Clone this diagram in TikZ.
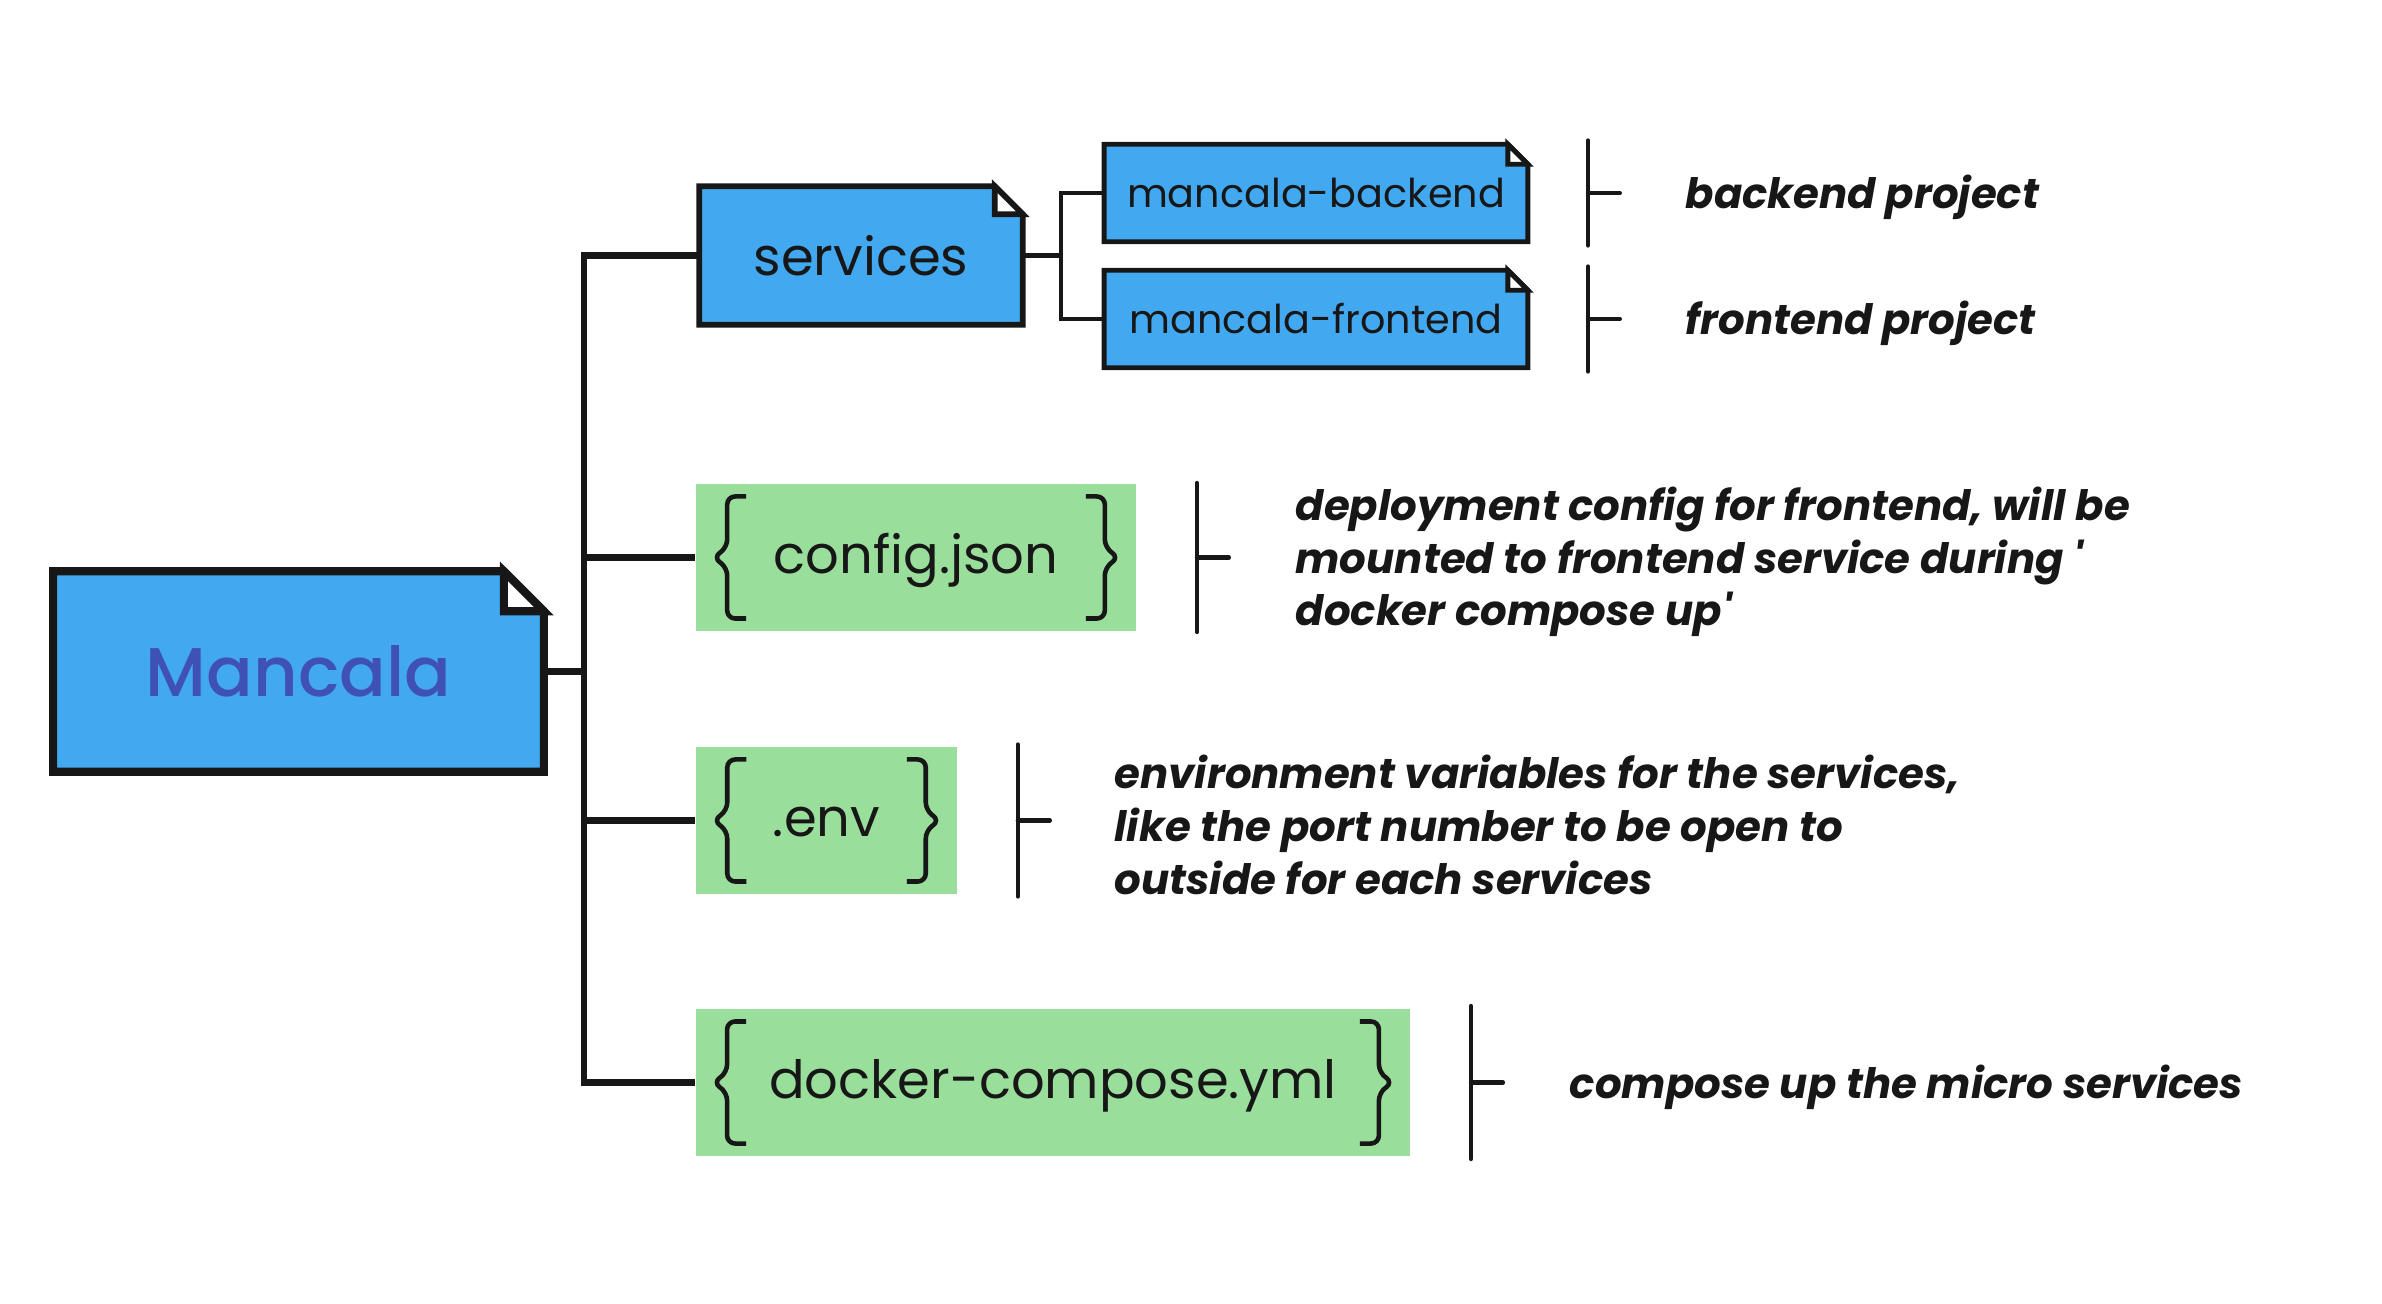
\documentclass[tikz,border=0pt]{standalone}
\usepackage{fontspec}
\setmainfont{Poppins}
\newfontfamily\titlefont{Poppins Medium}
\usepackage{tikz}
\usetikzlibrary{positioning, backgrounds}
\definecolor{docblue}{HTML}{42A9F1}
\definecolor{filegreen}{HTML}{99DE9B}
\definecolor{titleblue}{HTML}{3F51B5}
\definecolor{inkblack}{HTML}{171717}
\tikzstyle{doc} = [rectangle, inner sep=0pt, text centered, text=inkblack]
\tikzstyle{file} = [rectangle, inner sep=0pt, minimum height=1.47cm, text height=1.12em, text depth=0.2em, text centered, fill=filegreen, text=inkblack, font=\fontsize{15}{18}\selectfont]
\tikzstyle{note} = [inner sep=0pt, anchor=west, yshift=-0.045cm, align=left, text=inkblack, font=\bfseries\itshape\fontsize{11.9}{15}\selectfont]
\tikzstyle{branch} = [draw=inkblack, line width=1.8pt]
\tikzstyle{link} = [draw=inkblack, line width=1.2pt]
\tikzstyle{bar} = [draw=inkblack, line width=1.2pt, line cap=round]
\tikzstyle{brace} = [draw=inkblack, line width=1.3pt, rounded corners=0.08cm]
% folded corner box behind a node: node, fold, border width
\newcommand{\dogear}[3]{%
  \begin{pgfonlayer}{background}
    \filldraw[fill=docblue, draw=inkblack, line width=#3]
      (#1.north west) -- ([xshift=-#2]#1.north east) -- ([yshift=-#2]#1.north east)
      -- (#1.south east) -- (#1.south west) -- cycle;
    \filldraw[fill=white, draw=inkblack, line width=#3]
      ([xshift=-#2]#1.north east) -- ([xshift=-#2,yshift=-#2]#1.north east)
      -- ([yshift=-#2]#1.north east) -- cycle;
  \end{pgfonlayer}}
% curly braces inside a file box
\newcommand{\filebraces}[1]{%
  \draw[brace] ([xshift=0.51cm,yshift=0.61cm]#1.west) -- ([xshift=0.32cm,yshift=0.61cm]#1.west)
    -- ([xshift=0.32cm,yshift=0.1cm]#1.west) -- ([xshift=0.18cm]#1.west)
    -- ([xshift=0.32cm,yshift=-0.1cm]#1.west) -- ([xshift=0.32cm,yshift=-0.61cm]#1.west)
    -- ([xshift=0.51cm,yshift=-0.61cm]#1.west);
  \draw[brace] ([xshift=-0.51cm,yshift=0.61cm]#1.east) -- ([xshift=-0.32cm,yshift=0.61cm]#1.east)
    -- ([xshift=-0.32cm,yshift=0.1cm]#1.east) -- ([xshift=-0.18cm]#1.east)
    -- ([xshift=-0.32cm,yshift=-0.1cm]#1.east) -- ([xshift=-0.32cm,yshift=-0.61cm]#1.east)
    -- ([xshift=-0.51cm,yshift=-0.61cm]#1.east);}
% bar with tick right of a node: node, half height
\newcommand{\notebar}[2]{%
  \draw[bar] ([xshift=0.6cm,yshift=#2]#1.east) -- ([xshift=0.6cm,yshift=-#2]#1.east);
  \draw[bar] ([xshift=0.6cm]#1.east) -- ([xshift=0.92cm]#1.east);}

\begin{document}
\begin{tikzpicture}[x=0.01cm, y=-0.01cm]
    \useasboundingbox (0,0) rectangle (2382,1304);
    % Nodes
    \node (mancala) [doc, minimum width=4.89cm, minimum height=1.99cm, text=titleblue, font=\titlefont\fontsize{19.6}{24}\selectfont] at (298.5,671.5) {Mancala};
    \node (services) [doc, minimum width=3.22cm, minimum height=1.37cm, font=\fontsize{15}{18}\selectfont] at (861,255.5) {services};
    \node (backend) [doc, minimum width=4.22cm, minimum height=0.96cm, font=\fontsize{11.3}{14}\selectfont] at (1316,193) {mancala-backend};
    \node (frontend) [doc, minimum width=4.22cm, minimum height=0.96cm, font=\fontsize{11.3}{14}\selectfont] at (1316,319) {mancala-frontend};
    \node (config) [file, minimum width=4.4cm] at (916,557.5) {config.json};
    \node (env) [file, minimum width=2.61cm] at (826.5,820.5) {.env};
    \node (compose) [file, minimum width=7.14cm] at (1053,1082.5) {docker-compose.yml};
    \dogear{mancala}{0.40cm}{2.3pt}
    \dogear{services}{0.28cm}{1.6pt}
    \dogear{backend}{0.2cm}{1.4pt}
    \dogear{frontend}{0.2cm}{1.4pt}
    \filebraces{config}
    \filebraces{env}
    \filebraces{compose}
    % Notes
    \node (backendnote) [note, right=1.57cm of backend.east] {backend project};
    \node (frontendnote) [note, right=1.57cm of frontend.east] {frontend project};
    \node (confignote) [note, right=1.58cm of config.east] {deployment config for frontend, will be\\mounted to frontend service during \textquotesingle\\docker compose up\textquotesingle};
    \node (envnote) [note, right=1.56cm of env.east] {environment variables for the services,\\like the port number to be open to\\outside for each services};
    \node (composenote) [note, right=1.58cm of compose.east] {compose up the micro services};
    \notebar{backend}{0.525cm}
    \notebar{frontend}{0.525cm}
    \notebar{config}{0.745cm}
    \notebar{env}{0.76cm}
    \notebar{compose}{0.765cm}
    % Connectors
    \coordinate (trunk) at ([xshift=-1.15cm]services.west);
    \coordinate (split) at ([xshift=0.38cm]services.east);
    \draw [branch] (services.west) -- (trunk) |- (compose.west);
    \draw [branch] (config.west) -- (config.west -| trunk);
    \draw [branch] (env.west) -- (env.west -| trunk);
    \draw [branch] (mancala.east) -- (mancala.east -| trunk);
    \draw [link] (services.east) -- (split);
    \draw [link] (backend.west) -| (split) |- (frontend.west);
\end{tikzpicture}
\end{document}
